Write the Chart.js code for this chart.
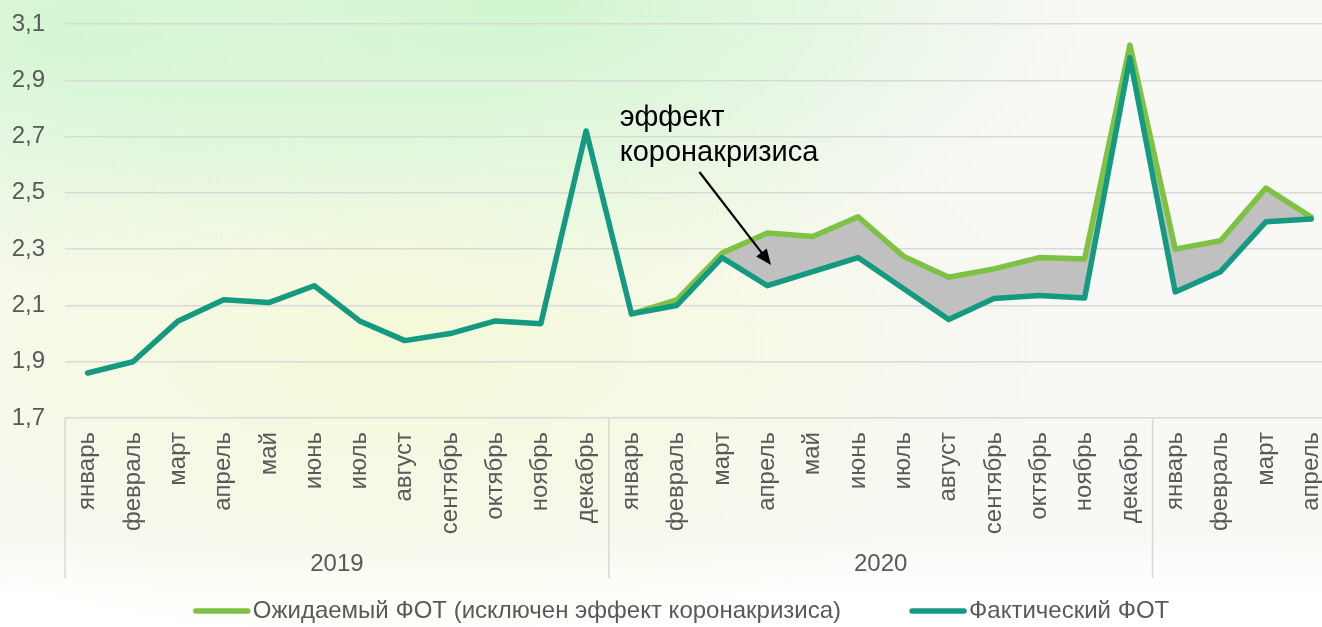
<!DOCTYPE html>
<html>
<head>
<meta charset="utf-8">
<script src="https://cdn.jsdelivr.net/npm/chart.js@4"></script>
<style>
  html, body { margin: 0; padding: 0; overflow: hidden; }
  body {
    width: 1322px; height: 627px;
    background:
      radial-gradient(ellipse 42% 45% at 40% 0%, rgba(206,246,204,0.95), rgba(206,246,204,0) 100%),
      radial-gradient(ellipse 40% 40% at 5% 5%, rgba(206,246,204,0.85), rgba(206,246,204,0) 100%),
      radial-gradient(ellipse 50% 50% at 30% 55%, rgba(244,249,216,1), rgba(244,249,216,0) 100%),
      linear-gradient(to bottom, #f8f8f5 0%, #f8f8f5 85%, #ffffff 95%);
  }
  #wrap { width: 1346px; height: 627px; position: relative; }
</style>
</head>
<body>
<div id="wrap"><canvas id="fotChart"></canvas></div>
<script>
// подписи по оси X
const months = [
  "январь", "февраль", "март", "апрель", "май", "июнь",
  "июль", "август", "сентябрь", "октябрь", "ноябрь", "декабрь",
  "январь", "февраль", "март", "апрель", "май", "июнь",
  "июль", "август", "сентябрь", "октябрь", "ноябрь", "декабрь",
  "январь", "февраль", "март", "апрель"
];
const yearLabels = ["2019", "2020", ""];
const yearSizes = [12, 12, 4];

// Фактический ФОТ
const actualFot = [
  1.86, 1.90, 2.045, 2.12, 2.11, 2.17, 2.045, 1.975, 2.0, 2.045, 2.035, 2.72,
  2.07, 2.10, 2.27, 2.17, 2.22, 2.27, 2.16, 2.05, 2.125, 2.135, 2.126, 2.98,
  2.148, 2.22, 2.397, 2.407
];
// Ожидаемый ФОТ (без эффекта коронакризиса)
const expectedFot = [
  null, null, null, null, null, null, null, null, null, null, null, null,
  2.07, 2.12, 2.286, 2.357, 2.345, 2.415, 2.275, 2.20, 2.23, 2.27, 2.265, 3.025,
  2.30, 2.33, 2.517, 2.414
];

const yMin = 1.7, yMax = 3.1, yStep = 0.2;

const FONT = "'Liberation Sans', Arial, sans-serif";
const TEXT = "#595959";
const GREEN = "#7dc242";
const TEAL = "#139a80";

const extras = {
  id: "extras",
  afterDraw(chart) {
    const ctx = chart.ctx;
    const x = chart.scales.x;
    const y = chart.scales.y;
    const half = (x.getPixelForValue(1) - x.getPixelForValue(0)) / 2;
    const bottom = chart.chartArea.bottom;

    // вертикальные разделители годов и подписи годов
    ctx.save();
    ctx.strokeStyle = "#d9d9d9";
    ctx.lineWidth = 1.5;
    let start = 0;
    for (let g = 0; g < yearSizes.length; g++) {
      const x0 = x.getPixelForValue(start) - half;
      const x1 = x.getPixelForValue(start + yearSizes[g] - 1) + half;
      ctx.beginPath();
      ctx.moveTo(x0, bottom);
      ctx.lineTo(x0, bottom + 160);
      ctx.stroke();
      ctx.fillStyle = TEXT;
      ctx.font = "24px " + FONT;
      ctx.textAlign = "center";
      ctx.textBaseline = "middle";
      ctx.fillText(yearLabels[g], (x0 + x1) / 2, bottom + 146);
      start += yearSizes[g];
    }

    // аннотация
    ctx.fillStyle = "#000";
    ctx.font = "29px " + FONT;
    ctx.textAlign = "left";
    ctx.textBaseline = "middle";
    const tx = x.getPixelForValue(11.74);
    ctx.fillText("эффект", tx, y.getPixelForValue(2.766));
    ctx.fillText("коронакризиса", tx, y.getPixelForValue(2.642));

    const ax0 = x.getPixelForValue(13.5), ay0 = y.getPixelForValue(2.574);
    const ax1 = x.getPixelForValue(15.08), ay1 = y.getPixelForValue(2.244);
    const ang = Math.atan2(ay1 - ay0, ax1 - ax0);
    const head = 17;
    ctx.strokeStyle = "#000";
    ctx.lineWidth = 2.2;
    ctx.beginPath();
    ctx.moveTo(ax0, ay0);
    ctx.lineTo(ax1 - Math.cos(ang) * head * 0.8, ay1 - Math.sin(ang) * head * 0.8);
    ctx.stroke();
    ctx.beginPath();
    ctx.moveTo(ax1, ay1);
    ctx.lineTo(ax1 - head * Math.cos(ang - 0.4), ay1 - head * Math.sin(ang - 0.4));
    ctx.lineTo(ax1 - head * Math.cos(ang + 0.4), ay1 - head * Math.sin(ang + 0.4));
    ctx.closePath();
    ctx.fill();

    // легенда
    const items = [
      { text: "Ожидаемый ФОТ (исключен эффект коронакризиса)", color: GREEN },
      { text: "Фактический ФОТ", color: TEAL }
    ];
    ctx.font = "24px " + FONT;
    const lineW = 58, gapAfter = 2, gapItems = 68;
    let total = 0;
    items.forEach((it, i) => {
      total += lineW + gapAfter + ctx.measureText(it.text).width;
      if (i < items.length - 1) total += gapItems;
    });
    let lx = 681 - total / 2;
    const ly = 611;
    items.forEach(it => {
      ctx.strokeStyle = it.color;
      ctx.lineWidth = 5.5;
      ctx.lineCap = "round";
      ctx.beginPath();
      ctx.moveTo(lx + 3, ly);
      ctx.lineTo(lx + lineW - 3, ly);
      ctx.stroke();
      lx += lineW + gapAfter;
      ctx.fillStyle = TEXT;
      ctx.textAlign = "left";
      ctx.fillText(it.text, lx, ly);
      lx += ctx.measureText(it.text).width + gapItems;
    });
    ctx.restore();
  }
};

new Chart(document.getElementById("fotChart").getContext("2d"), {
  type: "line",
  data: {
    labels: months,
    datasets: [
      {
        label: "Фактический ФОТ",
        data: actualFot,
        borderColor: TEAL,
        backgroundColor: TEAL,
        borderWidth: 5.5,
        pointRadius: 0,
        tension: 0,
        borderJoinStyle: "round",
        borderCapStyle: "round",
        fill: false
      },
      {
        label: "Ожидаемый ФОТ (исключен эффект коронакризиса)",
        data: expectedFot,
        borderColor: GREEN,
        backgroundColor: "#c0c0c0",
        borderWidth: 5.5,
        pointRadius: 0,
        tension: 0,
        borderJoinStyle: "round",
        borderCapStyle: "round",
        fill: "-1"
      }
    ]
  },
  options: {
    responsive: true,
    maintainAspectRatio: false,
    animation: false,
    layout: { padding: { top: 24, right: 0, left: 0, bottom: 0 } },
    plugins: {
      legend: { display: false },
      tooltip: { enabled: false }
    },
    scales: {
      x: {
        offset: true,
        grid: { display: false },
        border: { display: false },
        ticks: {
          autoSkip: false,
          minRotation: 90,
          maxRotation: 90,
          padding: 6,
          color: TEXT,
          font: { family: FONT, size: 24 }
        },
        afterFit(scale) { scale.height = 209; }
      },
      y: {
        min: yMin,
        max: yMax,
        border: { display: false },
        grid: { color: "#d9d9d9", lineWidth: 1.5, drawTicks: false },
        ticks: {
          stepSize: yStep,
          padding: 20,
          color: TEXT,
          font: { family: FONT, size: 24 },
          callback: v => v.toFixed(1).replace(".", ",")
        },
        afterFit(scale) {
          scale.width = 65;
          scale.paddingTop = 0;
          scale.paddingBottom = 0;
        }
      }
    }
  },
  plugins: [extras]
});
</script>
</body>
</html>
